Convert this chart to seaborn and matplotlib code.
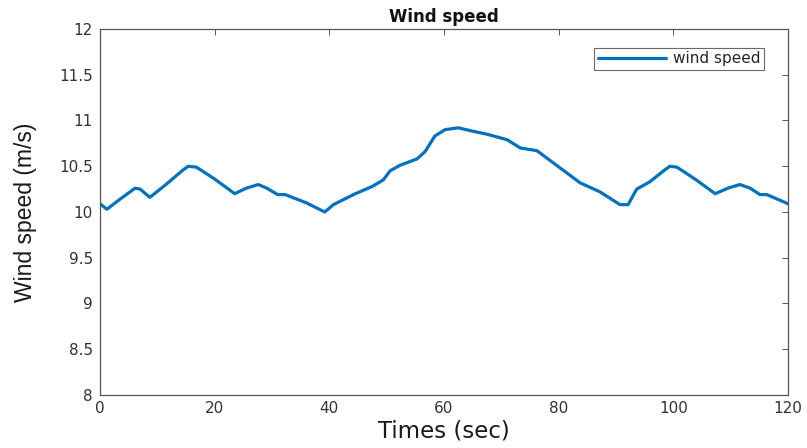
import matplotlib
matplotlib.use("Agg")
import matplotlib.pyplot as plt
import seaborn as sns
import pandas as pd

# Wind speed samples (time in s, speed in m/s)
times = [0.0, 1.2, 3.5, 6.1, 7.0, 8.7, 11.5, 14.5, 15.4, 16.8, 17.8, 20.0, 23.5,
         25.5, 27.6, 29.1, 31.0, 32.3, 36.0, 39.2, 40.7, 44.2, 47.5, 49.4, 50.6,
         52.3, 55.3, 56.7, 58.4, 60.2, 62.5, 64.5, 67.5, 71.0, 73.3, 76.2, 79.0,
         83.7, 87.2, 90.7, 92.1, 93.6, 95.9, 98.5, 99.4, 100.6, 101.6, 104.0,
         107.3, 109.5, 111.6, 113.4, 115.1, 116.3, 120.0]
speeds = [10.09, 10.03, 10.14, 10.26, 10.25, 10.16, 10.30, 10.46, 10.50, 10.49,
          10.45, 10.36, 10.20, 10.26, 10.30, 10.26, 10.19, 10.19, 10.10, 10.00,
          10.08, 10.19, 10.28, 10.35, 10.45, 10.51, 10.58, 10.66, 10.83, 10.90,
          10.92, 10.89, 10.85, 10.79, 10.70, 10.67, 10.54, 10.32, 10.22, 10.08,
          10.08, 10.25, 10.33, 10.46, 10.50, 10.49, 10.45, 10.35, 10.20, 10.26,
          10.30, 10.26, 10.19, 10.19, 10.09]

x_ticks = [0, 20, 40, 60, 80, 100, 120]
y_ticks = [8, 8.5, 9, 9.5, 10, 10.5, 11, 11.5, 12]
y_tick_labels = ["8", "8.5", "9", "9.5", "10", "10.5", "11", "11.5", "12"]

df = pd.DataFrame({"Times (sec)": times, "Wind speed (m/s)": speeds})

sns.set_theme(style="white")
plt.rcParams["font.family"] = ["DejaVu Sans"]

fig = plt.figure(figsize=(8.07, 4.48), dpi=100)
ax = fig.add_axes([0.1239, 0.1183, 0.8526, 0.817])

sns.lineplot(data=df, x="Times (sec)", y="Wind speed (m/s)", ax=ax,
             color="#0072BD", linewidth=2.3, label="wind speed")

ax.set_xlim(0, 120)
ax.set_ylim(8, 12)
ax.set_xticks(x_ticks)
ax.set_yticks(y_ticks)
ax.set_yticklabels(y_tick_labels)

for s in ax.spines.values():
    s.set_color("#555555")
    s.set_linewidth(0.9)

ax.tick_params(direction="in", length=4, width=0.7, color="#555555",
               labelcolor="#333333", labelsize=11, top=True, right=True, pad=5)
ax.tick_params(axis="x", pad=4)

ax.set_title("Wind speed", fontsize=12, fontweight="bold", pad=5, color="#111111")
ax.set_xlabel("Times (sec)", fontsize=16.5, labelpad=3, color="#1a1a1a")
ax.set_ylabel("Wind speed (m/s)", fontsize=16.5, labelpad=16, color="#1a1a1a",
              family=["Liberation Sans", "DejaVu Sans"])

leg = ax.legend(loc="upper right", fontsize=11, frameon=True, fancybox=False,
                edgecolor="#444444", handlelength=4.5, handletextpad=0.4,
                borderpad=0.25, bbox_to_anchor=(0.976, 0.97))
leg.get_frame().set_linewidth(0.8)
for line in leg.get_lines():
    line.set_linewidth(2.3)

fig.savefig("out.png", dpi=100)
